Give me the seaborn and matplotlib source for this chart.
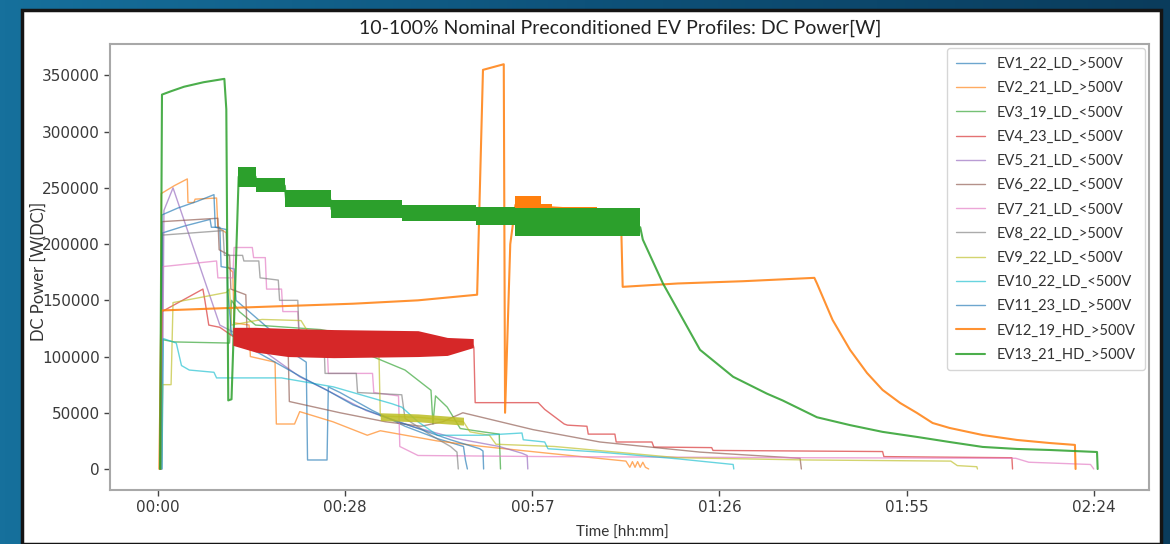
import numpy as np
import pandas as pd
import matplotlib
matplotlib.use("Agg")
import matplotlib.pyplot as plt
import seaborn as sns
from matplotlib.patches import Rectangle
from matplotlib.colors import LinearSegmentedColormap

# ---------------- data (time in minutes, DC power in W) ----------------
names = ["EV1_22_LD_>500V", "EV2_21_LD_>500V", "EV3_19_LD_<500V", "EV4_23_LD_<500V",
         "EV5_21_LD_<500V", "EV6_22_LD_<500V", "EV7_21_LD_<500V", "EV8_22_LD_>500V",
         "EV9_22_LD_<500V", "EV10_22_LD_<500V", "EV11_23_LD_>500V", "EV12_19_HD_>500V",
         "EV13_21_HD_>500V"]

t1 = [0.5, 0.7, 4.0, 8.0, 8.2, 9.5, 9.7, 11.7, 12.0, 14.0, 18.0, 21.5, 22.8, 23.0, 26.0, 26.2, 28.0, 33.0, 38.0, 43.0, 47.0, 47.3, 47.6]
p1 = [0, 210000, 216000, 222000, 215000, 215000, 180000, 178000, 150000, 140000, 120000, 100000, 95000, 8000, 8000, 73000, 68000, 52000, 38000, 27000, 20000, 8000, 0]

t2 = [0.3, 0.5, 2.5, 4.5, 4.6, 5.5, 5.7, 9.0, 9.2, 10.5, 10.7, 11.5, 11.7, 14.0, 14.2, 18.0, 18.2, 21.0, 21.8, 26.9, 32.2, 34.2, 42.9, 50.0, 60.0, 72.0, 72.6, 73.0, 73.4, 73.8, 74.2, 74.6, 75.0, 75.5]
p2 = [0, 245000, 252000, 258000, 237000, 237000, 240000, 241000, 215000, 210000, 180000, 175000, 130000, 128000, 100000, 95000, 40000, 40000, 51000, 42000, 30000, 34000, 25000, 20000, 14000, 7000, 1500, 6500, 1500, 6500, 1500, 6000, 1500, 0]

t3 = [0.5, 0.7, 2.5, 11.0, 11.3, 12.5, 15.0, 20.0, 25.0, 27.0, 28.5, 33.0, 38.0, 42.0, 42.3, 42.7, 44.5, 46.5, 50.0, 52.5, 52.7]
p3 = [0, 115000, 113000, 112000, 150000, 140000, 128000, 126000, 124000, 122000, 108000, 100000, 88000, 70000, 40000, 65000, 55000, 36000, 33000, 31000, 0]

t4 = [0.4, 0.6, 6.9, 7.2, 7.8, 9.5, 11.5, 48.5, 48.6, 48.8, 58.5, 59.5, 62.5, 63.0, 66.0, 66.2, 70.3, 70.5, 76.0, 76.3, 85.2, 85.4, 111.5, 111.7, 131.4, 131.5]
p4 = [0, 140000, 160000, 150000, 128000, 126000, 118000, 110000, 108000, 59000, 59000, 53000, 40000, 39000, 38000, 31000, 31000, 24000, 24000, 19500, 19000, 16500, 15500, 11000, 10000, 0]
band4_t = [11.5, 15.0, 20.0, 27.0, 40.0, 44.5, 48.5]
band4_lo = [110000, 104000, 100000, 99000, 100000, 101000, 108000]
band4_hi = [126000, 126000, 125000, 124000, 123000, 117000, 116000]

t5 = [0.6, 0.9, 2.3, 9.5, 11.5, 16.0, 21.8, 26.0, 32.0, 39.0, 46.0, 52.5, 56.0, 56.8, 56.9]
p5 = [0, 230000, 250000, 128000, 122000, 106000, 82000, 70000, 52000, 38000, 27000, 20000, 14000, 12000, 0]

t6 = [0.4, 0.6, 9.2, 9.4, 11.0, 11.2, 13.5, 13.7, 20.0, 20.2, 28.0, 35.0, 40.5, 43.8, 46.9, 57.7, 68.0, 83.4, 98.8, 99.0]
p6 = [0, 220000, 223000, 195000, 190000, 160000, 155000, 120000, 110000, 60000, 50000, 42000, 38000, 42000, 50000, 35000, 24000, 15000, 9500, 0]

t7 = [0.5, 0.7, 9.0, 9.2, 11.5, 11.7, 14.5, 14.7, 16.5, 16.7, 19.0, 19.2, 21.5, 21.7, 26.0, 26.2, 33.0, 33.2, 37.0, 37.2, 40.0, 60.0, 100.0, 132.0, 134.0, 143.5, 144.0]
p7 = [0, 180000, 185000, 170000, 170000, 197000, 197000, 188000, 188000, 160000, 160000, 140000, 140000, 115000, 112000, 85000, 85000, 68000, 65000, 20000, 12000, 11000, 10000, 9500, 6000, 4000, 0]

t8 = [0.4, 0.6, 10.0, 10.2, 13.0, 13.2, 15.5, 15.7, 18.5, 18.7, 21.5, 21.7, 25.5, 25.7, 30.5, 30.7, 37.5, 38.0, 42.0, 45.0, 46.0, 46.2]
p8 = [0, 208000, 212000, 190000, 190000, 185000, 185000, 170000, 168000, 150000, 150000, 120000, 118000, 85000, 85000, 68000, 66000, 45000, 30000, 20000, 15000, 0]

t9 = [0.5, 0.7, 2.0, 2.3, 6.0, 10.5, 11.0, 11.3, 16.0, 22.0, 23.5, 28.0, 34.0, 34.2, 40.0, 47.0, 48.0, 51.0, 52.0, 61.0, 80.0, 100.0, 122.0, 123.0, 126.0, 126.1]
p9 = [0, 75000, 75000, 148000, 152000, 157000, 160000, 128000, 133000, 132000, 118000, 112000, 100000, 47000, 46000, 42000, 33000, 30000, 22000, 20000, 10000, 8000, 7000, 3000, 2000, 0]
band9_t = [34.2, 40.0, 47.0]
band9_lo = [43000, 42000, 39000]
band9_hi = [50000, 49000, 46000]

t10 = [0.6, 0.8, 2.8, 3.6, 4.8, 8.6, 9.0, 19.0, 27.0, 36.0, 37.5, 40.0, 43.0, 50.0, 56.0, 56.2, 59.5, 60.0, 68.0, 80.0, 88.5, 88.6]
p10 = [0, 116000, 112000, 92000, 88000, 86000, 81000, 81000, 73000, 58000, 55000, 42000, 30000, 30000, 32000, 26000, 24000, 18000, 15000, 9000, 4000, 0]

t11 = [0.4, 0.6, 3.0, 6.0, 8.6, 8.8, 10.5, 10.7, 11.3, 14.0, 18.0, 22.0, 26.0, 30.0, 35.0, 40.0, 45.0, 49.5, 50.0, 50.1]
p11 = [0, 226000, 232000, 238000, 244000, 215000, 213000, 160000, 120000, 108000, 95000, 82000, 70000, 57000, 46000, 36000, 26000, 18000, 16000, 0]

t12 = [0.2, 0.5, 10.0, 20.0, 30.0, 40.0, 49.1, 50.0, 53.2, 53.4, 54.2, 55.0, 67.5, 67.7, 71.3, 71.5, 80.0, 90.0, 101.0, 101.4, 103.8, 106.5, 109.1, 111.5, 114.2, 116.8, 119.2, 121.8, 126.9, 132.2, 137.2, 141.1, 141.2]
p12 = [0, 141000, 143000, 145000, 147000, 150000, 155000, 355000, 360000, 50000, 200000, 235000, 230000, 210000, 210000, 162000, 165000, 167000, 170000, 165000, 132600, 105900, 85400, 70300, 58700, 49800, 40900, 36500, 30200, 25800, 23100, 21400, 0]
band12_t = [55.0, 59.0, 60.6, 67.5]
band12_lo = [228000, 228000, 227000, 227000]
band12_hi = [243000, 236000, 233000, 233000]

t13 = [0.3, 0.6, 2.0, 4.0, 7.0, 10.2, 10.5, 10.8, 11.3, 11.8, 12.4, 15.0, 15.2, 19.5, 19.7, 26.5, 26.7, 37.4, 37.6, 48.9, 49.1, 54.9, 55.1, 74.2, 74.6, 77.7, 83.4, 88.5, 93.7, 96.1, 101.4, 106.5, 111.5, 116.8, 121.8, 126.9, 132.2, 137.2, 144.5, 144.6]
p13 = [0, 333000, 336000, 340000, 344000, 347000, 320000, 61000, 62000, 150000, 260000, 260000, 252000, 252000, 240000, 240000, 231000, 230000, 228000, 226000, 225000, 222000, 220000, 215000, 204000, 165000, 106000, 82000, 67000, 61000, 46000, 39000, 33000, 28500, 24000, 19600, 17800, 16900, 15100, 0]
band13_t = [12.3, 15.1, 19.6, 26.6, 37.5, 49.0, 55.0, 74.2]
band13_lo = [251000, 246000, 233000, 223000, 221000, 217000, 207000, 207000]
band13_hi = [269000, 259000, 248000, 239000, 235000, 233000, 232000, 232000]

x_ticks = [0, 28.8, 57.6, 86.4, 115.2, 144.0]
x_tick_labels = ["00:00", "00:28", "00:57", "01:26", "01:55", "02:24"]
y_ticks = [0, 50000, 100000, 150000, 200000, 250000, 300000, 350000]

series_t = [t1, t2, t3, t4, t5, t6, t7, t8, t9, t10, t11, t12, t13]
series_p = [p1, p2, p3, p4, p5, p6, p7, p8, p9, p10, p11, p12, p13]

# ---------------- figure ----------------
sns.set_theme(style="white")
plt.rcParams["font.family"] = ["DejaVu Sans"]

W, H = 1170, 544
fig = plt.figure(figsize=(W / 100, H / 100), dpi=100)

bg = fig.add_axes([0, 0, 1, 1], zorder=-10)
grad = np.linspace(0, 1, 256).reshape(1, -1)
cmap_bg = LinearSegmentedColormap.from_list("bg", ["#16709c", "#0e527a", "#0a3c5c"])
bg.imshow(grad, aspect="auto", cmap=cmap_bg, extent=[0, 1, 0, 1])
bg.set_axis_off()
panel = Rectangle((22 / W, 0), (1161 - 22) / W, (H - 10) / H, transform=fig.transFigure,
                  facecolor="white", edgecolor="#151515", linewidth=2.5, zorder=-5)
fig.patches.append(panel)

ax = fig.add_axes([110 / W, 1 - 490 / H, (1149 - 110) / W, (490 - 44) / H])
ax.set_facecolor("white")

palette = sns.color_palette("tab10", 10)
colors = [palette[i % 10] for i in range(13)]

for i, (name, tt, pp) in enumerate(zip(names, series_t, series_p)):
    df = pd.DataFrame({"time": tt, "power": pp})
    hd = "HD" in name
    sns.lineplot(data=df, x="time", y="power", ax=ax, color=colors[i], label=name,
                 linewidth=1.5 if hd else 1.0, alpha=0.85 if hd else 0.65,
                 estimator=None, sort=False)

ax.fill_between(band4_t, band4_lo, band4_hi, color=colors[3], linewidth=0, zorder=3)
ax.fill_between(band9_t, band9_lo, band9_hi, color=colors[8], linewidth=0, alpha=0.85, zorder=3)
ax.fill_between(band12_t, band12_lo, band12_hi, step="post", color=colors[11], linewidth=0, zorder=3)
ax.fill_between(band13_t, band13_lo, band13_hi, step="post", color=colors[12], linewidth=0, zorder=3)

ax.set_xlim(-7.4, 152.5)
ax.set_ylim(-18700, 378000)
ax.set_xticks(x_ticks)
ax.set_xticklabels(x_tick_labels)
ax.set_yticks(y_ticks)
ax.set_yticklabels([str(v) for v in y_ticks])
ax.tick_params(axis="both", labelsize=11, colors="#444444", length=4, width=1,
               direction="out", left=True, bottom=True)
for lab in ax.get_xticklabels() + ax.get_yticklabels():
    lab.set_color("#3a3a3a")
for s in ax.spines.values():
    s.set_color("#a8a8a8")
    s.set_linewidth(1.5)
ax.set_xlabel("")
ax.set_ylabel("")

leg = ax.legend(loc="upper right", bbox_to_anchor=(1.0, 1.0), borderaxespad=0.3,
                borderpad=0.6, labelspacing=0.7, handlelength=2.0, frameon=True,
                prop={"family": "Lato", "size": 10.5})
leg.get_frame().set_edgecolor("#cccccc")
for txt in leg.get_texts():
    txt.set_color("#333333")

fig.text(620 / W, 1 - 28 / H, "10-100% Nominal Preconditioned EV Profiles: DC Power[W]",
         ha="center", va="center", fontsize=14, family="Lato", color="#222222")
fig.text(38 / W, 1 - 271 / H, "DC Power [W(DC)]", rotation=90, ha="center", va="center",
         fontsize=12, family="Lato", color="#333333")
fig.text(622 / W, 1 - 533 / H, "Time [hh:mm]", ha="center", va="center",
         fontsize=11, family="Lato", color="#333333")

fig.savefig("out.png", dpi=100, facecolor=fig.get_facecolor())
